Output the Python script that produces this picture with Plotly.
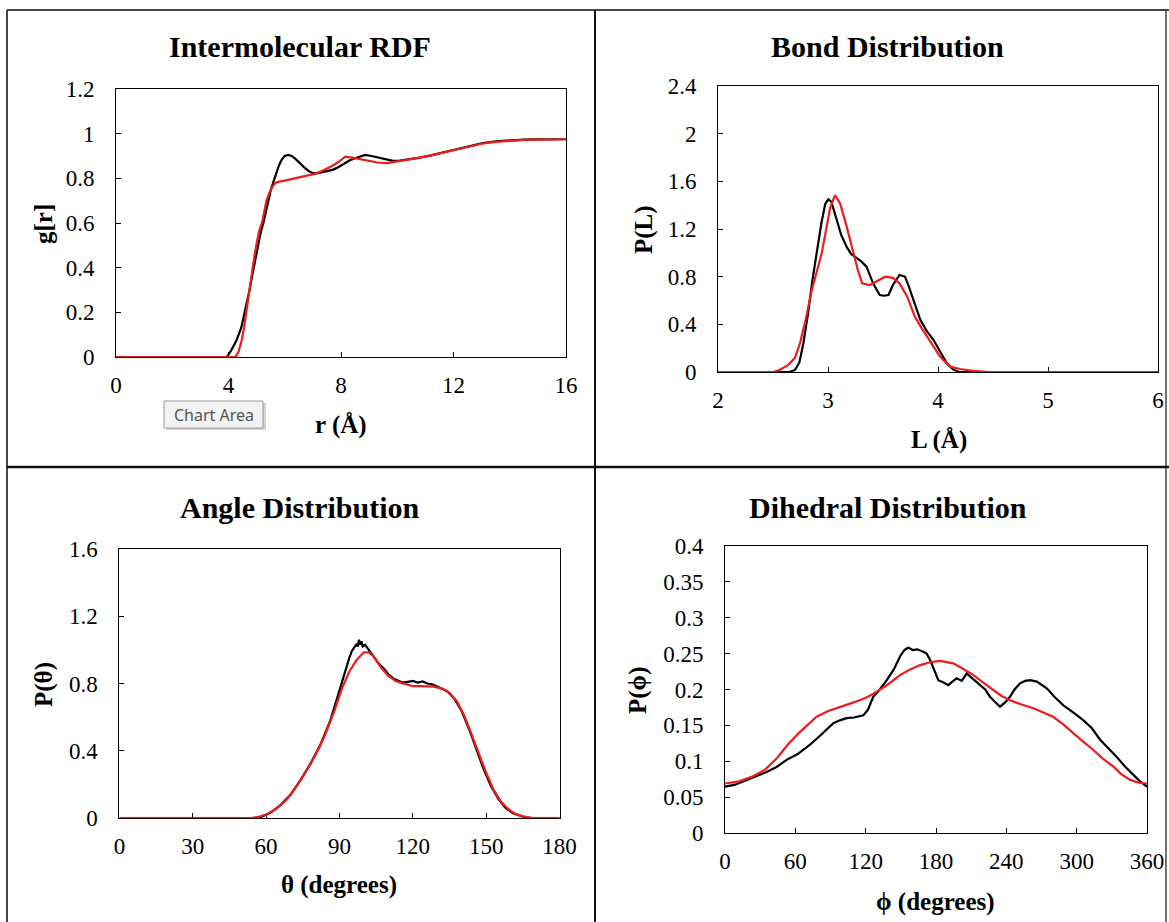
import plotly.graph_objects as go

W, H = 1169, 922

# ---------------- DATA ----------------
# Intermolecular RDF
rdf_black_r = [0, 3.8, 3.94, 4.1, 4.29, 4.45, 4.6, 4.75, 4.85, 4.95, 5.05, 5.15, 5.24, 5.33, 5.41, 5.5, 5.6, 5.7, 5.8, 5.9, 6.0, 6.12,
               6.25, 6.4, 6.55, 6.7, 6.85, 7.0, 7.14, 7.3, 7.5, 7.7, 7.9, 8.1, 8.3, 8.5, 8.7, 8.86, 9.0, 9.2, 9.4, 9.63, 9.85,
               10.1, 10.4, 10.8, 11.2, 11.6, 12.0, 12.5, 13.0, 13.5, 14.0, 14.5, 15.0, 15.5, 16.0]
rdf_black_g = [0, 0, 0, 0.03, 0.076, 0.13, 0.21, 0.30, 0.37, 0.434, 0.50, 0.56, 0.60, 0.65, 0.70, 0.745, 0.785, 0.825, 0.86, 0.885, 0.9, 0.905,
               0.9, 0.885, 0.865, 0.848, 0.833, 0.823, 0.822, 0.826, 0.83, 0.838, 0.85, 0.865, 0.88, 0.89, 0.898, 0.905, 0.902, 0.897, 0.89, 0.883, 0.878,
               0.879, 0.884, 0.893, 0.903, 0.915, 0.93, 0.945, 0.957, 0.966, 0.971, 0.973, 0.974, 0.974, 0.975]
rdf_red_r = [0, 4.1, 4.24, 4.35, 4.47, 4.55, 4.65, 4.75, 4.82, 4.9, 5.0, 5.1, 5.19, 5.27, 5.35, 5.45, 5.55, 5.66, 5.8, 6.0, 6.3, 6.6, 6.9,
             7.06, 7.3, 7.6, 7.9, 8.15, 8.4, 8.6, 8.8, 9.0, 9.3, 9.63, 9.9, 10.1, 10.4, 10.8, 11.2, 11.6, 12.0, 12.5, 13.0, 13.5,
             14.0, 14.5, 15.0, 15.5, 16.0]
rdf_red_g = [0, 0, 0, 0.02, 0.076, 0.13, 0.22, 0.30, 0.37, 0.434, 0.51, 0.57, 0.60, 0.65, 0.70, 0.735, 0.76, 0.779, 0.785, 0.79, 0.798, 0.806, 0.815,
             0.82, 0.832, 0.85, 0.872, 0.897, 0.893, 0.888, 0.882, 0.876, 0.871, 0.868, 0.873, 0.879, 0.884, 0.893, 0.903, 0.915, 0.928, 0.943, 0.955, 0.963,
             0.969, 0.972, 0.973, 0.974, 0.975]

# Bond distribution
bond_black_L = [2.0, 2.65, 2.7, 2.74, 2.776, 2.82, 2.86, 2.897, 2.94, 2.975, 3.003, 3.03, 3.05, 3.08, 3.12, 3.17, 3.21, 3.26, 3.30,
                3.35, 3.41, 3.47, 3.51, 3.55, 3.59, 3.65, 3.70, 3.73, 3.76, 3.80, 3.84, 3.90, 3.96, 4.02, 4.08, 4.14, 4.19, 6.0]
bond_black_P = [0, 0, 0.017, 0.08, 0.24, 0.5, 0.78, 0.995, 1.25, 1.41, 1.449, 1.43, 1.36, 1.275, 1.15, 1.05, 0.99, 0.954, 0.93,
                0.884, 0.744, 0.646, 0.64, 0.646, 0.73, 0.814, 0.80, 0.73, 0.646, 0.54, 0.436, 0.34, 0.268, 0.17, 0.073, 0.02, 0, 0]
bond_red_L = [2.0, 2.5, 2.56, 2.64, 2.70, 2.745, 2.80, 2.85, 2.90, 2.942, 2.98, 3.02, 3.064, 3.11, 3.17, 3.23, 3.27, 3.31, 3.38,
              3.46, 3.52, 3.59, 3.65, 3.72, 3.79, 3.85, 3.90, 3.96, 4.02, 4.11, 4.2, 4.3, 4.46, 6.0]
bond_red_P = [0, 0, 0.017, 0.06, 0.12, 0.24, 0.45, 0.68, 0.85, 0.995, 1.18, 1.38, 1.485, 1.415, 1.22, 0.995, 0.86, 0.744, 0.73,
              0.77, 0.80, 0.79, 0.744, 0.632, 0.464, 0.37, 0.296, 0.21, 0.128, 0.045, 0.025, 0.012, 0, 0]

# Angle distribution
ang_black_t = [0, 54, 58, 62, 66, 70, 74, 78, 82, 86, 89, 92, 94, 95, 96, 97, 97.5, 98, 98.5, 99, 99.5, 100.5, 102, 104, 106, 108,
               110, 112, 114, 116, 118, 120, 122, 124, 126, 128, 131, 134, 137, 140, 143, 146, 149, 152, 155, 158, 161, 165, 169, 180]
ang_black_P = [0, 0, 0.008, 0.035, 0.08, 0.14, 0.225, 0.32, 0.43, 0.57, 0.71, 0.86, 0.95, 0.99, 1.01, 1.035, 1.02, 1.06, 1.03, 1.05, 1.02, 1.03, 1.0, 0.96, 0.92, 0.89,
               0.855, 0.83, 0.815, 0.805, 0.81, 0.815, 0.805, 0.812, 0.8, 0.795, 0.775, 0.755, 0.71, 0.635, 0.53, 0.41, 0.29, 0.19, 0.115, 0.06, 0.03, 0.01, 0, 0]
ang_red_t = [0, 52, 56, 60, 64, 68, 72, 76, 80, 84, 88, 91, 94, 97, 100, 102, 104, 107, 110, 113, 116, 120, 124, 128, 132, 135,
             138, 141, 144, 147, 150, 153, 156, 159, 162, 166, 170, 180]
ang_red_P = [0, 0, 0.005, 0.022, 0.055, 0.105, 0.18, 0.27, 0.37, 0.49, 0.64, 0.77, 0.87, 0.94, 0.985, 0.985, 0.96, 0.895, 0.845, 0.815, 0.80, 0.785, 0.785, 0.782, 0.77, 0.745,
             0.695, 0.61, 0.50, 0.38, 0.27, 0.17, 0.10, 0.055, 0.025, 0.008, 0, 0]

# Dihedral distribution
dih_black_p = [0, 8, 16, 24, 35.5, 44, 52.6, 62, 72.5, 82, 92.4, 98, 103.8, 110, 118, 122, 126.5, 132, 138, 144, 149.3, 153, 156.4, 160,
               164, 169.2, 172, 175, 178.5, 182, 186, 190.5, 194, 197.7, 202, 206.2, 212, 217.6, 222, 226, 230, 234.6, 239, 243.2,
               247, 251.7, 256, 260.2, 266, 274.5, 281, 288.7, 297, 305.8, 313, 320, 327, 334.2, 341, 348.4, 354, 360]
dih_black_P = [0.0645, 0.067, 0.072, 0.077, 0.085, 0.092, 0.102, 0.11, 0.123, 0.137, 0.153, 0.157, 0.16, 0.161, 0.164, 0.172, 0.19, 0.2, 0.213, 0.228, 0.246, 0.255, 0.2585, 0.255,
               0.256, 0.2527, 0.25, 0.241, 0.228, 0.213, 0.21, 0.206, 0.211, 0.2155, 0.212, 0.2225, 0.214, 0.206, 0.2, 0.19, 0.183, 0.176, 0.182, 0.19,
               0.2, 0.2086, 0.212, 0.213, 0.211, 0.2017, 0.19, 0.178, 0.168, 0.157, 0.146, 0.13, 0.118, 0.106, 0.093, 0.081, 0.072, 0.0645]
dih_red_p = [0, 12, 24, 34, 44.6, 54, 64, 71, 78.2, 88, 98, 106, 115, 122, 129.4, 139, 149.3, 158, 166.4, 175, 183.5, 189, 194.8, 203,
             211.9, 220, 229, 236, 243.2, 253, 263, 271, 280, 288, 297, 305, 314, 322, 331.3, 338, 345.6, 353, 360]
dih_red_P = [0.069, 0.072, 0.079, 0.088, 0.105, 0.124, 0.141, 0.152, 0.162, 0.17, 0.176, 0.18, 0.185, 0.19, 0.197, 0.207, 0.22, 0.228, 0.234, 0.238, 0.24, 0.2385, 0.2365, 0.229,
             0.22, 0.21, 0.1993, 0.191, 0.185, 0.179, 0.174, 0.168, 0.162, 0.152, 0.139, 0.128, 0.116, 0.104, 0.0924, 0.082, 0.074, 0.07, 0.069]

# ---------------- LAYOUT HELPERS ----------------
def px(x):
    return x / W

def py(y):
    return 1 - y / H

SERIF = "Liberation Serif, Times New Roman, serif"
BLACK = "#000000"
RED = "#ee1c1c"

fig = go.Figure()

panels = [
    (rdf_black_r, rdf_black_g, rdf_red_r, rdf_red_g, "x", "y"),
    (bond_black_L, bond_black_P, bond_red_L, bond_red_P, "x2", "y2"),
    (ang_black_t, ang_black_P, ang_red_t, ang_red_P, "x3", "y3"),
    (dih_black_p, dih_black_P, dih_red_p, dih_red_P, "x4", "y4"),
]
for bx, by, rx, ry, xa, ya in panels:
    fig.add_trace(go.Scatter(x=bx, y=by, mode="lines", line=dict(color=BLACK, width=2.2),
                             xaxis=xa, yaxis=ya, showlegend=False, hoverinfo="skip"))
    fig.add_trace(go.Scatter(x=rx, y=ry, mode="lines", line=dict(color=RED, width=2.2),
                             xaxis=xa, yaxis=ya, showlegend=False, hoverinfo="skip"))

def axis(domain, rng, dtick, anchor, standoff):
    return dict(domain=domain, range=rng, dtick=dtick, tick0=rng[0], anchor=anchor,
                ticks="inside", ticklen=5, tickwidth=1, tickcolor=BLACK,
                showline=True, linecolor=BLACK, linewidth=1, mirror=True,
                showgrid=False, zeroline=False, layer="below traces", automargin=False,
                tickfont=dict(family=SERIF, size=23, color=BLACK),
                ticklabelstandoff=standoff)

fig.update_layout(
    width=W, height=H, margin=dict(l=0, r=0, t=0, b=0, pad=0, autoexpand=False),
    paper_bgcolor="white", plot_bgcolor="white",
    xaxis=axis([px(116), px(566)], [0, 16], 4, "y", 7),
    yaxis=axis([py(357), py(89)], [0, 1.2], 0.2, "x", 16),
    xaxis2=axis([px(718), px(1158)], [2, 6], 1, "y2", 7),
    yaxis2=axis([py(372), py(86)], [0, 2.4], 0.4, "x2", 16),
    xaxis3=axis([px(119.4), px(559.5)], [0, 180], 30, "y3", 7),
    yaxis3=axis([py(818.3), py(548.7)], [0, 1.6], 0.4, "x3", 16),
    xaxis4=axis([px(725), px(1147)], [0, 360], 60, "y4", 7),
    yaxis4=axis([py(833), py(546)], [0, 0.4], 0.05, "x4", 16),
)

annotations = []
def text(x, y, s, size, bold=True, angle=0, color=BLACK, family=SERIF):
    annotations.append(dict(x=px(x), y=py(y), xref="paper", yref="paper", text=(f"<b>{s}</b>" if bold else s),
                            showarrow=False, xanchor="center", yanchor="middle", textangle=angle,
                            font=dict(family=family, size=size, color=color)))

# panel titles
text(300, 47, "Intermolecular RDF", 30)
text(887, 47, "Bond Distribution", 30)
text(300, 507, "Angle Distribution", 30)
text(888, 507, "Dihedral Distribution", 30)
# axis titles
text(341, 425, "r (Å)", 25)
text(939, 440, "L (Å)", 25)
text(339, 885, "θ (degrees)", 25)
text(935, 902, "ϕ (degrees)", 25)
text(43, 224, "g[r]", 25, angle=-90)
text(644, 230, "P(L)", 25, angle=-90)
text(44, 685, "P(θ)", 25, angle=-90)
text(638, 690, "P(ϕ)", 25, angle=-90)
# Excel tooltip
text(213.5, 414.5, "Chart Area", 16, bold=False, color="#555555", family="Noto Sans, Open Sans, sans-serif")
fig.update_layout(annotations=annotations)

shapes = []
def line(x0, y0, x1, y1, color, width):
    shapes.append(dict(type="line", xref="paper", yref="paper", x0=px(x0), y0=py(y0), x1=px(x1), y1=py(y1),
                       line=dict(color=color, width=width)))

line(7, 10, 1169, 10, "#444444", 2)
line(7, 10, 7, 922, "#444444", 2)
line(1166, 10, 1166, 922, "#444444", 1.5)
line(595, 10, 595, 922, "#111111", 2)
line(7, 467, 1169, 467, "#111111", 2.5)
# tooltip box (shadow + box)
shapes.append(dict(type="rect", xref="paper", yref="paper", x0=px(166), y0=py(430), x1=px(266), y1=py(403),
                   line=dict(width=0), fillcolor="#d4d4d4", layer="above"))
shapes.append(dict(type="rect", xref="paper", yref="paper", x0=px(164), y0=py(428), x1=px(263), y1=py(401),
                   line=dict(color="#9a9a9a", width=1), fillcolor="#f3f3f3", layer="above"))
fig.update_layout(shapes=shapes)

fig.write_html(
    "out.html",
    config={"displayModeBar": False},
    post_script="document.body.style.margin='0';document.body.style.padding='0';document.body.style.overflow='hidden';",
)
